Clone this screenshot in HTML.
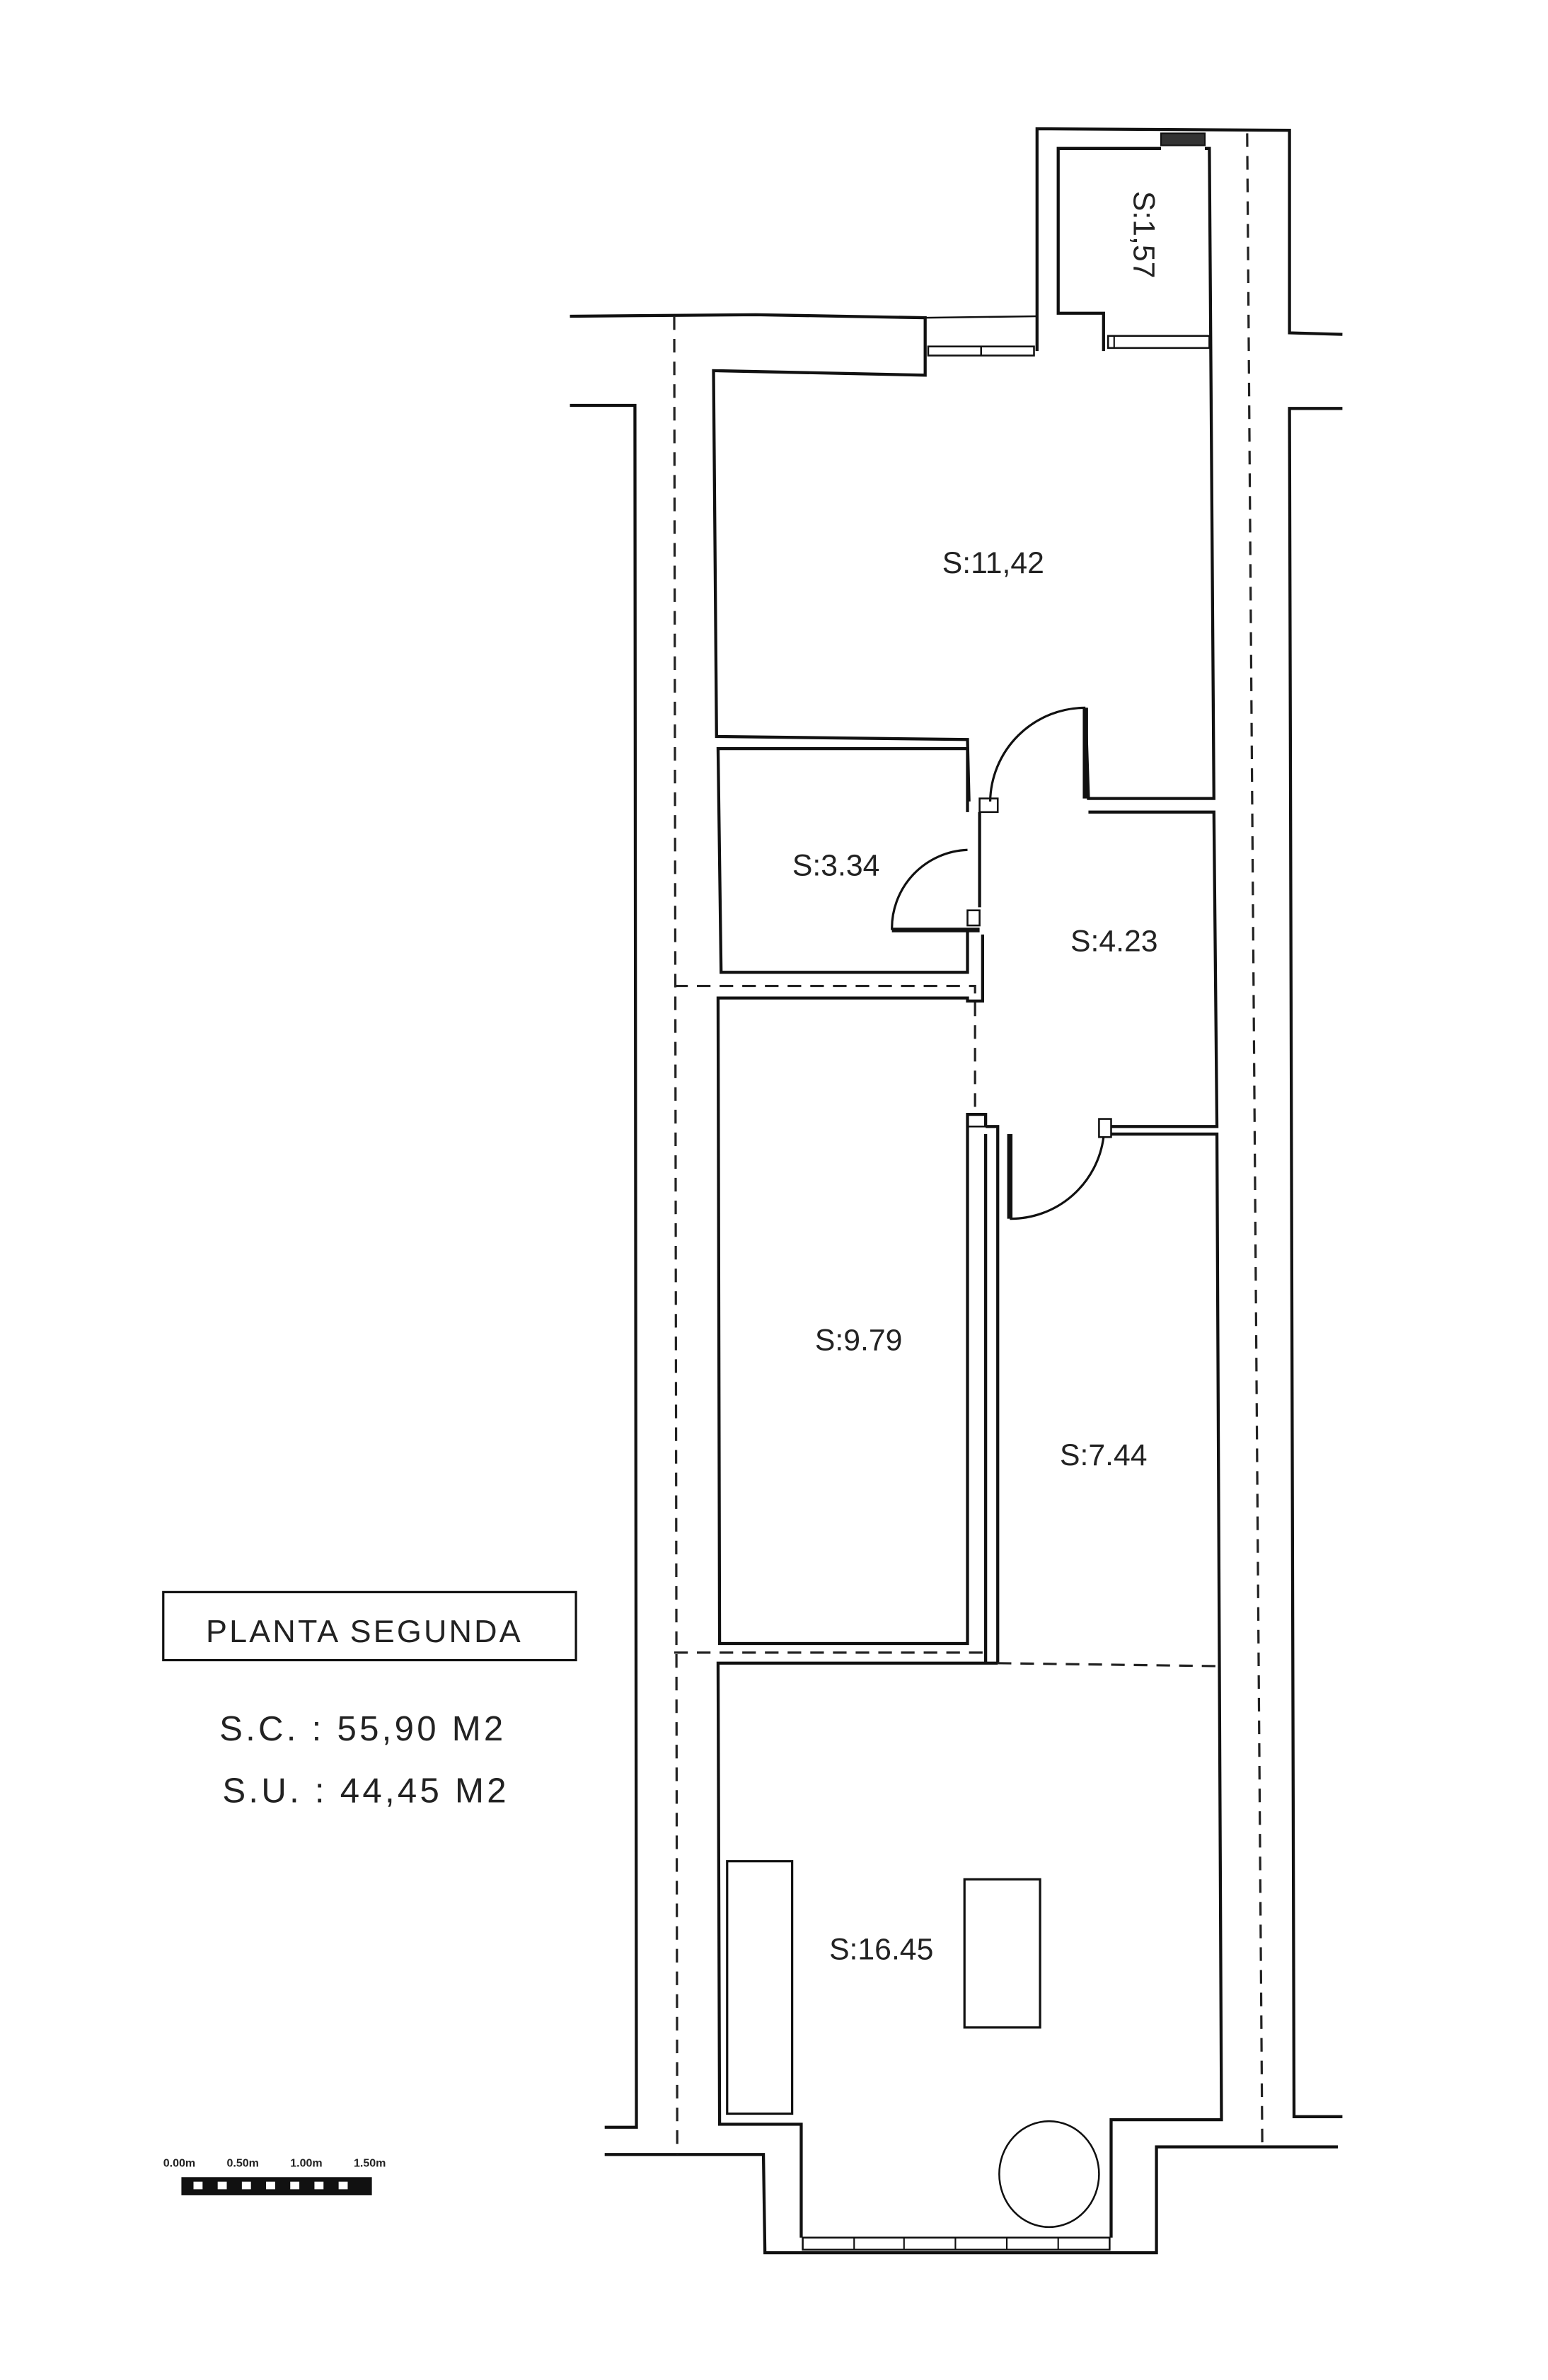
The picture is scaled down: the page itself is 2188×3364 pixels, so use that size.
<!DOCTYPE html>
<html><head><meta charset="utf-8"><style>
html,body{margin:0;padding:0;background:#fff;}
svg{display:block;}
text{font-family:"Liberation Sans","DejaVu Sans",sans-serif;fill:#222;}
</style></head><body>
<svg width="2188" height="3364" viewBox="0 0 1024 1574" xmlns="http://www.w3.org/2000/svg">
<rect width="1024" height="1574" fill="#fff"/>
<g fill="none" stroke="#111" stroke-width="2" stroke-linejoin="miter">
<!-- left outer -->
<polyline points="377,268 420,268 421,1407 400,1407"/>
<polyline points="377,209 500,208 612,210 612,248 472,245 474,487 640,489 641,530"/>
<!-- window top -->
<line x1="612" y1="210" x2="686" y2="209" stroke-width="1.2"/>
<rect x="614" y="229" width="70" height="6" stroke-width="1.2"/>
<line x1="649" y1="229" x2="649" y2="235" stroke-width="1.2"/>
<!-- tower -->
<polyline points="686,232 686,85 853,86 853,220 888,221"/>
<polyline points="730,232 730,207 700,207 700,98 768,98"/>
<rect x="768" y="88" width="29" height="8" fill="#333" stroke-width="1"/>
<polyline points="797,98 800,98 803,528 720,528 718,468"/>
<rect x="733" y="222" width="67" height="8" stroke-width="1.2"/>
<line x1="737" y1="222" x2="737" y2="230" stroke-width="1"/>
<!-- door 1 -->
<line x1="718" y1="468" x2="718" y2="528" stroke-width="3.5"/>
<path d="M718,468 A63,63 0 0 0 655,530" stroke-width="1.5"/>
<rect x="648" y="528" width="12" height="9" stroke-width="1.2"/>
<!-- room 3.34 -->
<polyline points="648,537 648,600"/>
<polyline points="640,537 640,495 475,495 477,643 640,643 640,615"/>
<rect x="640" y="602" width="8" height="10" stroke-width="1.2"/>
<line x1="590" y1="615" x2="648" y2="615" stroke-width="3"/>
<path d="M590,615 A52,52 0 0 1 640,562" stroke-width="1.5"/>
<polyline points="650,618 650,662 640,662 640,660 475,660 476,1087 640,1087 640,737 652,737 652,745"/>
<rect x="640" y="737" width="12" height="8" stroke-width="1.2"/>
<!-- 4.23 room right -->
<polyline points="720,537 803,537 805,745 735,745"/>
<rect x="727" y="740" width="8" height="12" stroke-width="1.2"/>
<polyline points="735,750 805,750 808,1402 735,1402 735,1480"/>
<!-- door 7.44 -->
<polyline points="652,745 660,745 660,750"/>
<line x1="668" y1="750" x2="668" y2="806" stroke-width="3.5"/>
<path d="M668,806 A62,62 0 0 0 730,752" stroke-width="1.5"/>
<line x1="652" y1="750" x2="652" y2="1100"/>
<line x1="660" y1="750" x2="660" y2="1100"/>
<polyline points="660,1100 475,1100 476,1405 530,1405 530,1480"/>
<!-- bottom -->
<polyline points="400,1425 505,1425 506,1490 765,1490 765,1420 885,1420"/>
<rect x="531" y="1480" width="203" height="8" stroke-width="1.2"/>
<g stroke-width="1">
<line x1="565" y1="1480" x2="565" y2="1488"/><line x1="598" y1="1480" x2="598" y2="1488"/>
<line x1="632" y1="1480" x2="632" y2="1488"/><line x1="666" y1="1480" x2="666" y2="1488"/>
<line x1="700" y1="1480" x2="700" y2="1488"/>
</g>
<!-- right outer -->
<polyline points="888,270 853,270 856,1400 888,1400"/>
<!-- furniture -->
<rect x="481" y="1231" width="43" height="167" stroke-width="1.5"/>
<rect x="638" y="1243" width="50" height="98" stroke-width="1.5"/>
<ellipse cx="694" cy="1438" rx="33" ry="35" stroke-width="1.2"/>
<!-- legend box -->
<rect x="108" y="1053" width="273" height="45" stroke-width="1.5"/>
</g>
<g fill="none" stroke="#222" stroke-width="1.5" stroke-dasharray="9,6">
<line x1="446" y1="209" x2="448" y2="1425"/>
<line x1="825" y1="88" x2="835" y2="1420"/>
<polyline points="446,652 645,652 645,737"/>
<line x1="446" y1="1093" x2="652" y2="1093"/>
<line x1="660" y1="1100" x2="808" y2="1102"/>
</g>
<g font-size="20">
<text x="657" y="379" text-anchor="middle">S:11,42</text>
<text x="553" y="579" text-anchor="middle">S:3.34</text>
<text x="737" y="629" text-anchor="middle">S:4.23</text>
<text x="568" y="893" text-anchor="middle">S:9.79</text>
<text x="730" y="969" text-anchor="middle">S:7.44</text>
<text x="583" y="1296" text-anchor="middle">S:16.45</text>
<text transform="translate(750,155) rotate(90)" text-anchor="middle">S:1,57</text>
</g>
<text x="241" y="1086" font-size="21" text-anchor="middle" letter-spacing="1.5">PLANTA SEGUNDA</text>
<text x="240" y="1151" font-size="23" text-anchor="middle" letter-spacing="2">S.C. : 55,90 M2</text>
<text x="242" y="1192" font-size="23" text-anchor="middle" letter-spacing="2">S.U. : 44,45 M2</text>
<g font-size="7.5" font-weight="bold">
<text x="108" y="1433">0.00m</text><text x="150" y="1433">0.50m</text>
<text x="192" y="1433">1.00m</text><text x="234" y="1433">1.50m</text>
</g>
<g>
<rect x="120" y="1440" width="126" height="12" fill="#111"/>
<rect x="128" y="1443" width="6" height="5" fill="#fff"/><rect x="144" y="1443" width="6" height="5" fill="#fff"/>
<rect x="160" y="1443" width="6" height="5" fill="#fff"/><rect x="176" y="1443" width="6" height="5" fill="#fff"/>
<rect x="192" y="1443" width="6" height="5" fill="#fff"/><rect x="208" y="1443" width="6" height="5" fill="#fff"/>
<rect x="224" y="1443" width="6" height="5" fill="#fff"/>
</g>
</svg>
</body></html>
